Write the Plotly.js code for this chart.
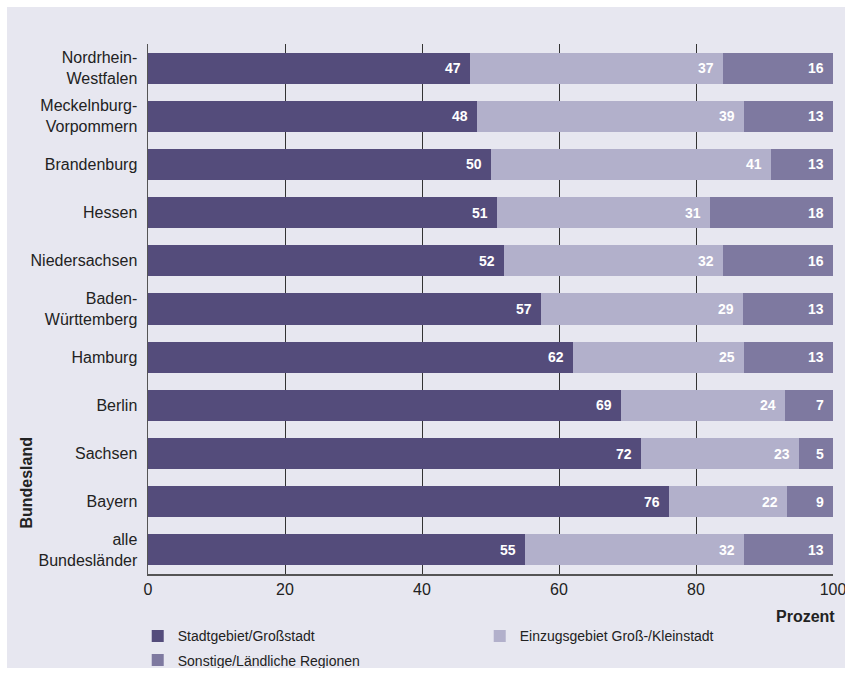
<!DOCTYPE html>
<html><head><meta charset="utf-8">
<script src="https://cdn.plot.ly/plotly-3.0.1.min.js"></script>
<style>html,body{margin:0;padding:0;background:#fff;} #chart{position:absolute;left:7px;top:7px;width:838px;height:661px;}</style>
</head><body><div id="chart"></div>
<script>
const categories = ['Nordrhein-<br>Westfalen','Meckelnburg-<br>Vorpommern','Brandenburg','Hessen','Niedersachsen','Baden-<br>Württemberg','Hamburg','Berlin','Sachsen','Bayern','alle<br>Bundesländer'];
// segment lengths as drawn in the picture
const stadt    = [47,48,50,51,52,57.4,62,69,72,76,55];
const einzug   = [37,39,41,31,32,29.4,25,24,23,17.3,32];
const sonstige = [16,13,13,18,16,13.2,13,7,5,9,13];
// numbers printed on the segments
const stadtLabels    = [47,48,50,51,52,57,62,69,72,76,55];
const einzugLabels   = [37,39,41,31,32,29,25,24,23,22,32];
const sonstigeLabels = [16,13,13,18,16,13,13,7,5,9,13];
const seriesNames = ['Stadtgebiet/Großstadt','Einzugsgebiet Groß-/Kleinstadt','Sonstige/Ländliche Regionen'];
const xTicks = [0,20,40,60,80,100];
const yTitle = 'Bundesland';
const xTitle = 'Prozent';

const colors = ['#544c7b','#b2b0cb','#7e79a0'];
const FONT = '"Liberation Sans Narrow", "Arial Narrow", "Liberation Sans", Arial, sans-serif';
const series = [stadt, einzug, sonstige];
const seriesLabels = [stadtLabels, einzugLabels, sonstigeLabels];
const legendIds = ['legend','legend','legend2'];

const traces = [];
series.forEach((vals, i) => {
  traces.push({
    type:'bar', orientation:'h', name: seriesNames[i], y: categories, x: vals,
    marker:{color: colors[i]}, width: 0.645, hoverinfo:'skip', legend: legendIds[i]
  });
});
// value labels at the (clipped) end of each segment
const annotations = [];
const ends = categories.map(() => 0);
series.forEach((vals, i) => {
  vals.forEach((v, k) => {
    ends[k] += v;
    annotations.push({
      x: Math.min(ends[k], 100), y: categories[k], xref:'x', yref:'y', text: String(seriesLabels[i][k]),
      showarrow:false, xanchor:'right', yanchor:'middle', xshift:-7,
      font:{family: FONT, size:14, color:'#ffffff', weight:'bold'}
    });
  });
});
annotations.push(
  {text: yTitle, xref:'paper', yref:'paper', x:-0.177, y:0.172, textangle:-90, showarrow:false,
    font:{size:16, color:'#222', weight:'bold'}, xanchor:'center', yanchor:'middle'},
  {text: xTitle, xref:'paper', yref:'paper', x:1.006, y:-0.081, showarrow:false,
    font:{size:16, color:'#222', weight:'bold'}, xanchor:'right', yanchor:'middle'}
);

const layout = {
  width: 838, height: 661,
  paper_bgcolor:'#e7e7f0', plot_bgcolor:'#e7e7f0',
  margin:{l:141, r:12, t:37, b:94, autoexpand:false},
  barmode:'stack',
  font:{family: FONT, size:16, color:'#222'},
  showlegend:true,
  xaxis:{range:[0,100], tickvals: xTicks, ticktext: xTicks.map(String), showgrid:true, gridcolor:'#333333', gridwidth:1,
    zeroline:false, showline:true, linecolor:'#555', linewidth:1.5, ticks:'', fixedrange:true,
    ticklabeloverflow:'allow', tickfont:{size:16, color:'#222'}},
  yaxis:{autorange:'reversed', showline:true, linecolor:'#555', linewidth:1.5, showgrid:false, ticks:'outside', ticklen:6,
    tickcolor:'rgba(0,0,0,0)', tickfont:{size:16, color:'#222'}, fixedrange:true},
  legend:{orientation:'h', x:-0.015, xanchor:'left', y:-0.0875, yanchor:'top', bgcolor:'rgba(0,0,0,0)',
    font:{size:14, color:'#222'}, entrywidth:297, traceorder:'normal'},
  legend2:{orientation:'h', x:-0.015, xanchor:'left', y:-0.133, yanchor:'top', bgcolor:'rgba(0,0,0,0)',
    font:{size:14, color:'#222'}},
  annotations: annotations
};
Plotly.newPlot('chart', traces, layout, {displayModeBar:false, staticPlot:true});
</script></body></html>
